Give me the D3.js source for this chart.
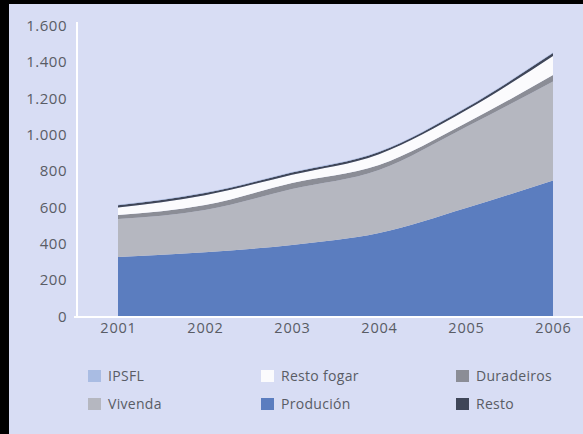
<!DOCTYPE html>
<html><head><meta charset="utf-8">
<script src="https://cdn.jsdelivr.net/npm/d3@7"></script>
<style>
html,body{margin:0;padding:0;background:#d8ddf4;}
svg{display:block;}
</style></head>
<body>
<svg id="chart" width="583" height="434"></svg>
<script>
const years = [2001, 2002, 2003, 2004, 2005, 2006];
const producion  = [325, 350, 391, 456, 594, 745];
const vivenda    = [208, 233, 307, 347, 445, 545];
const duradeiros = [22, 27, 33, 27, 22, 35];
const restoFogar = [42, 54, 46, 60, 70, 105];
const resto      = [12, 12, 12, 12, 13, 16];
const ipsfl      = [3, 3, 3, 3, 3, 3];
const yTicks = [0, 200, 400, 600, 800, 1000, 1200, 1400, 1600];

const seriesNames  = ["Produción", "Vivenda", "Duradeiros", "Resto fogar", "Resto", "IPSFL"];
const seriesValues = [producion, vivenda, duradeiros, restoFogar, resto, ipsfl];
const seriesColors = ["#5b7dbf", "#b5b7c0", "#8b8d96", "#fbfbfd", "#3f4658", "#a9bce3"];
const legendOrder  = ["IPSFL", "Resto fogar", "Duradeiros", "Vivenda", "Produción", "Resto"];

const svg = d3.select("#chart");
const W = 583, H = 434;
const textColor = "#595c65";
const font = "'Open Sans', sans-serif";

svg.append("rect").attr("width", W).attr("height", H).attr("fill", "#d8ddf4");

const x = d3.scaleLinear().domain([2001, 2006]).range([118, 553]);
const y = d3.scaleLinear().domain([0, 1600]).range([316, 25]);

const table = years.map((yr, i) => {
  const row = {year: yr};
  seriesNames.forEach((n, k) => row[n] = seriesValues[k][i]);
  return row;
});
const stack = d3.stack().keys(seriesNames)(table);
const area = d3.area()
  .x(d => x(d.data.year))
  .y0(d => y(d[0]))
  .y1(d => y(d[1]))
  .curve(d3.curveMonotoneX);

svg.append("g").selectAll("path").data(stack).join("path")
  .attr("d", area)
  .attr("fill", (d, i) => seriesColors[i]);

// axes lines
svg.append("line").attr("x1", 77).attr("x2", 77).attr("y1", 22).attr("y2", y(0))
  .attr("stroke", "#ffffff").attr("stroke-width", 2);
svg.append("line").attr("x1", 74).attr("x2", W).attr("y1", y(0) + 1).attr("y2", y(0) + 1)
  .attr("stroke", "#ffffff").attr("stroke-width", 2);

const loc = d3.formatLocale({decimal: ",", thousands: ".", grouping: [3], currency: ["", ""]});
const fmt = loc.format(",d");

const yAxis = d3.axisLeft(y).tickValues(yTicks).tickFormat(fmt).tickSize(0).tickPadding(0);
const gy = svg.append("g").attr("transform", "translate(67,0)").call(yAxis);
gy.select(".domain").remove();
gy.selectAll("text").attr("fill", textColor).attr("font-family", font)
  .attr("font-size", 15).attr("letter-spacing", "0.5px").attr("dy", "0.35em");

const xAxis = d3.axisBottom(x).tickValues(years).tickFormat(d3.format("d")).tickSize(0).tickPadding(0);
const gx = svg.append("g").attr("transform", "translate(0,323)").call(xAxis);
gx.select(".domain").remove();
gx.selectAll("text").attr("fill", textColor).attr("font-family", font)
  .attr("font-size", 14.5).attr("letter-spacing", "0.8px").attr("dy", "0.71em");

// legend
const colX = [88, 261, 456];
const rowY = [376, 404];
legendOrder.forEach((name, i) => {
  const c = i % 3, r = Math.floor(i / 3);
  const k = seriesNames.indexOf(name);
  const g = svg.append("g").attr("transform", `translate(${colX[c]},${rowY[r]})`);
  g.append("rect").attr("x", 0).attr("y", -6).attr("width", 13).attr("height", 12)
    .attr("fill", seriesColors[k]);
  g.append("text").attr("x", 20).attr("y", 0).attr("dy", "0.35em")
    .attr("fill", textColor).attr("font-family", font).attr("font-size", 14)
    .attr("letter-spacing", "0.3px").text(name);
});

// scan border
svg.append("rect").attr("x", 0).attr("y", 0).attr("width", 9).attr("height", H).attr("fill", "#000");
svg.append("rect").attr("x", 0).attr("y", 0).attr("width", W).attr("height", 4).attr("fill", "#000");
</script>
</body></html>
